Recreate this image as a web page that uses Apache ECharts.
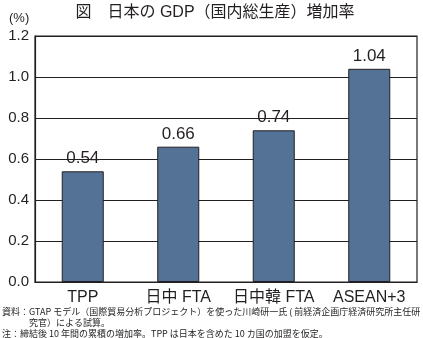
<!DOCTYPE html>
<html>
<head>
<meta charset="utf-8">
<script src="https://cdn.jsdelivr.net/npm/echarts@6/dist/echarts.min.js"></script>
<style>
  html, body { margin: 0; padding: 0; background: #fff; }
  #chart { width: 423px; height: 338px; }
</style>
</head>
<body>
<div id="chart"></div>
<script>
// GDP growth (cumulative, %) by trade agreement scenario
const categories = ['TPP', '日中 FTA', '日中韓 FTA', 'ASEAN+3'];
const growth = [0.54, 0.66, 0.74, 1.04];
const yTicks = [0, 0.2, 0.4, 0.6, 0.8, 1.0, 1.2];
const titleText = '図　日本の GDP（国内総生産）増加率';
const unitText = '(%)';
const notes = [
  '資料：GTAP モデル（国際貿易分析プロジェクト）を使った川崎研一氏 ( 前経済企画庁経済研究所主任研',
  '　　　究官）による試算。',
  '注：締結後 10 年間の累積の増加率。TPP は日本を含めた 10 カ国の加盟を仮定。'
];

const ink = '#231f20';
const barFill = '#537296';
const sans = '"Liberation Sans", Arial, "Noto Sans CJK JP", sans-serif';

const chart = echarts.init(document.getElementById('chart'), null, { renderer: 'canvas' });

chart.setOption({
  animation: false,
  backgroundColor: '#fff',
  title: {
    text: titleText,
    left: 210,
    textAlign: 'center',
    top: 0,
    textStyle: { fontFamily: sans, fontSize: 16, fontWeight: 'normal', color: ink }
  },
  grid: {
    left: 35, right: 6, top: 36, bottom: 56,
    show: true, borderColor: ink, borderWidth: 1.2, backgroundColor: 'transparent'
  },
  xAxis: {
    type: 'category',
    data: categories,
    axisLine: { lineStyle: { color: ink, width: 1.2 } },
    axisTick: { show: false },
    axisLabel: { color: ink, fontFamily: sans, fontSize: 16, margin: 8, interval: 0 }
  },
  yAxis: {
    type: 'value',
    min: yTicks[0],
    max: yTicks[yTicks.length - 1],
    interval: 0.2,
    axisLine: { show: true, lineStyle: { color: ink, width: 1.2 } },
    axisTick: { show: false },
    splitLine: { lineStyle: { color: ink, width: 1.2 } },
    axisLabel: {
      color: ink, fontFamily: sans, fontSize: 15, margin: 6,
      formatter: v => v.toFixed(1)
    }
  },
  series: [{
    type: 'bar',
    data: growth,
    barWidth: '44%',
    itemStyle: { color: barFill, borderColor: ink, borderWidth: 1 },
    label: {
      show: true,
      position: 'top',
      distance: 4,
      color: ink,
      fontFamily: sans,
      fontSize: 17,
      formatter: p => p.value.toFixed(2)
    }
  }],
  graphic: [
    {
      type: 'text', left: 9, top: 12,
      style: { text: unitText, fill: ink, font: '13px ' + sans }
    },
    {
      type: 'text', left: 2, top: 306,
      style: {
        text: notes.join('\n'),
        fill: ink,
        font: '9px "Noto Sans CJK JP", sans-serif',
        lineHeight: 11
      }
    }
  ]
});
</script>
</body>
</html>
